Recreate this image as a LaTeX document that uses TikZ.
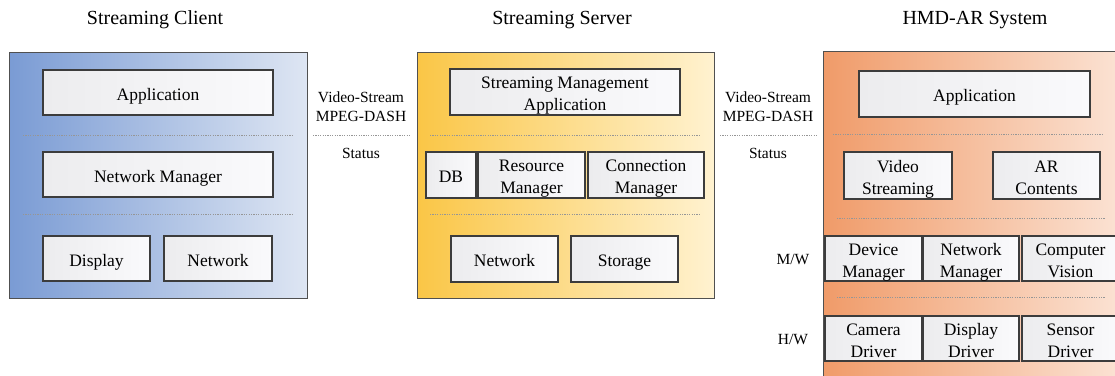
\documentclass[tikz,border=0pt]{standalone}
\usepackage{fontspec}
\setmainfont{Liberation Serif}
\definecolor{cL}{RGB}{122,155,212}
\definecolor{cR}{RGB}{222,230,243}
\definecolor{sL}{RGB}{250,198,70}
\definecolor{sR}{RGB}{255,242,208}
\definecolor{hL}{RGB}{240,155,105}
\definecolor{hR}{RGB}{252,232,220}
\definecolor{bxL}{RGB}{236,236,238}
\definecolor{bxR}{RGB}{250,250,252}
\definecolor{bxD}{RGB}{60,60,60}
\definecolor{otD}{RGB}{80,80,80}
\definecolor{sepC}{RGB}{150,150,150}
\newcommand{\Tx}[1]{\raisebox{-3.5pt}[\height][\depth]{\begin{tabular}{@{}c@{}}#1\end{tabular}}}
\begin{document}
\begin{tikzpicture}[x=1pt,y=-1pt,
  outer/.style={draw=otD,line width=1pt,inner sep=0pt},
  bx/.style={draw=bxD,line width=1.1pt,left color=bxL,right color=bxR,
    inner sep=0pt,font=\fontsize{17.5}{22}\selectfont},
  ttl/.style={font=\fontsize{20}{24}\selectfont},
  lbl/.style={font=\fontsize{15.5}{19}\selectfont,align=center},
  sep/.style={draw=sepC,line width=0.8pt,dash pattern=on 1.2pt off 1.2pt}]
\clip (0,0) rectangle (1115,375);
\useasboundingbox (0,0) rectangle (1115,375);
% titles
\node[ttl] (tc) at (155,20) {Streaming Client};
\node[ttl] (ts) at (562,20) {Streaming Server};
\node[ttl] (th) at (975,20) {HMD-AR System};
% client
\node[outer,left color=cL,right color=cR,minimum width=298,minimum height=246] (cl) at (158,175) {};
\node[bx,minimum width=230,minimum height=45] (capp) at (158,92.5) {\Tx{Application}};
\draw[sep] (23,135) -- (292,135);
\node[bx,minimum width=230,minimum height=45] (cnm) at (158,174.5) {\Tx{Network Manager}};
\draw[sep] (23,214) -- (292,214);
\node[bx,minimum width=107,minimum height=45] (cdisp) at (96.5,258.5) {\Tx{Display}};
\node[bx,minimum width=108,minimum height=45] (cnet) at (218,258.5) {\Tx{Network}};
% left labels
\node[lbl] (l1) at (361,97) {Video-Stream};
\node[lbl] (l2) at (361,116) {MPEG-DASH};
\draw[sep] (313,135) -- (410,135);
\node[lbl] (l3) at (361,153) {Status};
% server
\node[outer,left color=sL,right color=sR,minimum width=297,minimum height=246] (sv) at (565.5,175) {};
\node[bx,minimum width=230,minimum height=46] (sma) at (565,92) {\Tx{Streaming Management\\Application}};
\draw[sep] (430,135) -- (700,135);
\node[bx,minimum width=50,minimum height=46] (db) at (451,175) {\Tx{DB}};
\node[bx,minimum width=107,minimum height=46] (rm) at (531.5,175) {\Tx{Resource\\Manager}};
\node[bx,minimum width=116,minimum height=46] (cm) at (646,175) {\Tx{Connection\\Manager}};
\draw[sep] (430,214) -- (700,214);
\node[bx,minimum width=107,minimum height=46] (snet) at (504.5,259) {\Tx{Network}};
\node[bx,minimum width=107,minimum height=46] (sst) at (624.5,259) {\Tx{Storage}};
% right labels
\node[lbl] (r1) at (768,97) {Video-Stream};
\node[lbl] (r2) at (768,116) {MPEG-DASH};
\draw[sep] (720,135) -- (817,135);
\node[lbl] (r3) at (768,153) {Status};
% HMD
\node[outer,left color=hL,right color=hR,minimum width=320,minimum height=360] (hm) at (983,231) {};
\node[bx,minimum width=231,minimum height=46] (happ) at (974.5,94) {\Tx{Application}};
\draw[sep] (833,134) -- (1103,134);
\node[bx,minimum width=108,minimum height=47] (vs) at (898,175.5) {\Tx{Video\\Streaming}};
\node[bx,minimum width=107,minimum height=47] (ar) at (1046.5,175.5) {\Tx{AR\\Contents}};
\draw[sep] (837,218) -- (1105,218);
\node[bx,minimum width=97,minimum height=45] (dm) at (873.5,258.5) {\Tx{Device\\Manager}};
\node[bx,minimum width=96,minimum height=45] (nm) at (971,258.5) {\Tx{Network\\Manager}};
\node[bx,minimum width=97,minimum height=45] (cv) at (1070.5,258.5) {\Tx{Computer\\Vision}};
\draw[sep] (837,297) -- (1105,297);
\node[bx,minimum width=97,minimum height=45] (cd) at (873.5,338.5) {\Tx{Camera\\Driver}};
\node[bx,minimum width=96,minimum height=45] (dd) at (971,338.5) {\Tx{Display\\Driver}};
\node[bx,minimum width=97,minimum height=45] (sd) at (1070.5,338.5) {\Tx{Sensor\\Driver}};
\node[lbl] (mw) at (793,260) {M/W};
\node[lbl] (hw) at (793,340) {H/W};
\end{tikzpicture}
\end{document}
